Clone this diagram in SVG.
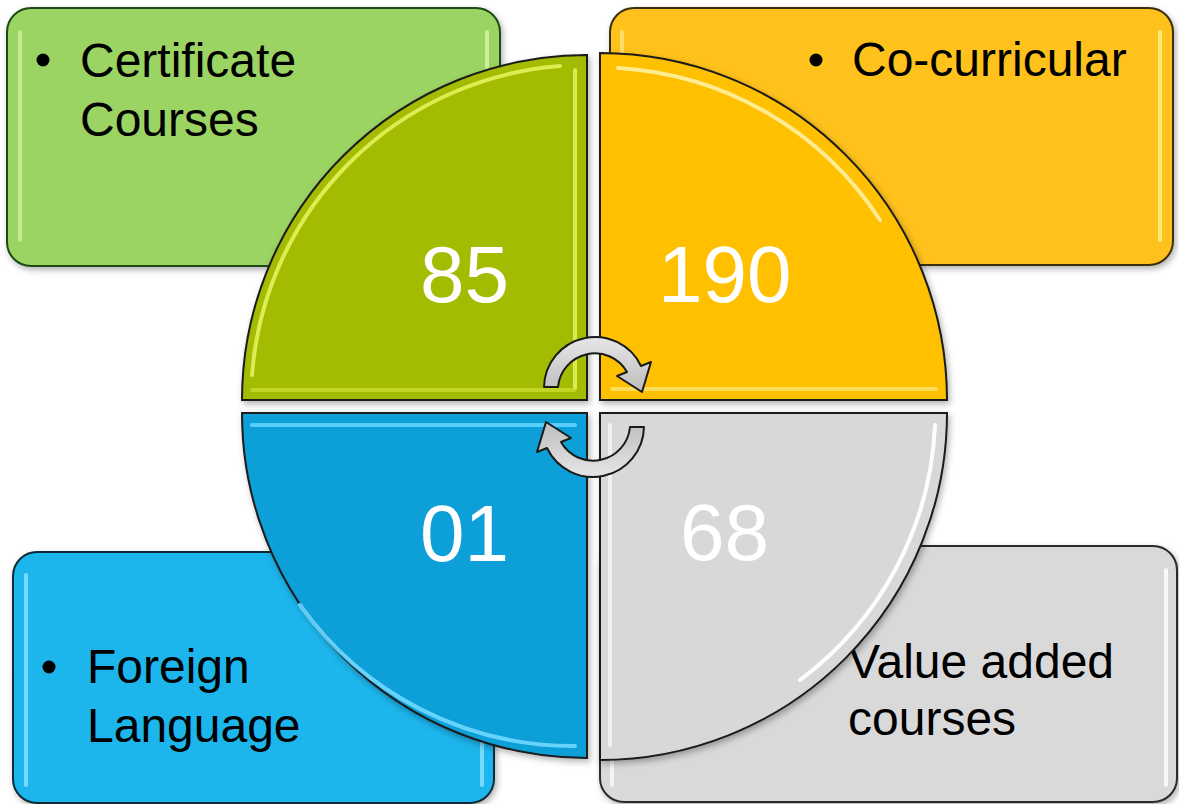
<svg xmlns="http://www.w3.org/2000/svg" width="1179" height="804" viewBox="0 0 1179 804">
<defs>
<filter id="sh" x="-10%" y="-10%" width="120%" height="120%">
<feDropShadow dx="2" dy="3" stdDeviation="3" flood-color="#000" flood-opacity="0.3"/>
</filter>
<linearGradient id="arrowFill" x1="0" y1="0" x2="0" y2="1">
<stop offset="0" stop-color="#e6e6e6"/>
<stop offset="1" stop-color="#bdbdbd"/>
</linearGradient>
<style>
.rect{stroke-width:2}
.quarter{stroke:#1a1a1a;stroke-width:2;filter:url(#sh)}
.hl{fill:none;stroke-width:4;stroke-linecap:round}
.lbl{font-family:"Liberation Sans",Arial,sans-serif;font-size:48px;fill:#000}
.num{font-family:"Liberation Sans",Arial,sans-serif;font-size:80px;fill:#fff}
.arrow{fill:url(#arrowFill);stroke:#1a1a1a;stroke-width:2;stroke-linejoin:round}
</style>
</defs>
<rect width="1179" height="804" fill="#fff"/>

<g id="box-certificate">
<rect class="rect" x="7" y="8" width="493" height="258" rx="24" fill="#9bd462" stroke="#1f4a12" filter="url(#sh)"/>
<line class="hl" x1="20" y1="32" x2="20" y2="240" stroke="#c9f09a" opacity="0.8"/>
<line class="hl" x1="487" y1="32" x2="487" y2="240" stroke="#d8f5a8" opacity="0.8"/>
<circle cx="43" cy="60" r="6.5" fill="#000"/>
<text class="lbl" x="80" y="77">Certificate</text>
<text class="lbl" x="80" y="136">Courses</text>
</g>

<g id="box-cocurricular">
<rect class="rect" x="610" y="8" width="563" height="257" rx="24" fill="#ffc21e" stroke="#3a2e08" filter="url(#sh)"/>
<line class="hl" x1="622" y1="32" x2="622" y2="240" stroke="#ffe27a" opacity="0.8"/>
<line class="hl" x1="1160" y1="32" x2="1160" y2="240" stroke="#fff07a" opacity="0.9"/>
<circle cx="816" cy="60" r="6.5" fill="#000"/>
<text class="lbl" x="852" y="76">Co-curricular</text>
</g>

<g id="box-foreign">
<rect class="rect" x="13" y="552" width="481" height="251" rx="24" fill="#1bb5ec" stroke="#0c2a38" filter="url(#sh)"/>
<line class="hl" x1="26" y1="575" x2="26" y2="785" stroke="#8fe2ff" opacity="0.8"/>
<line class="hl" x1="482" y1="700" x2="482" y2="785" stroke="#8fe2ff" opacity="0.8"/>
<circle cx="49" cy="667" r="6.5" fill="#000"/>
<text class="lbl" x="87" y="683">Foreign</text>
<text class="lbl" x="87" y="742">Language</text>
</g>

<g id="box-valueadded">
<rect class="rect" x="600" y="546" width="577" height="256" rx="24" fill="#d9d9d9" stroke="#2a2a2a" filter="url(#sh)"/>
<line class="hl" x1="612" y1="570" x2="612" y2="785" stroke="#fff" opacity="0.7"/>
<line class="hl" x1="1166" y1="570" x2="1166" y2="785" stroke="#fff" opacity="0.8"/>
<text class="lbl" x="848" y="678">Value added</text>
<text class="lbl" x="848" y="735">courses</text>
</g>

<g id="quarter-85">
<path class="quarter" d="M 587 400 L 242 400 A 345 345 0 0 1 587 55 Z" fill="#a3bb00"/>
<path class="hl" d="M 252 375 A 335 335 0 0 1 560 66" stroke="#e3f25a" opacity="0.9"/>
<line class="hl" x1="575" y1="70" x2="575" y2="388" stroke="#e0f060" opacity="0.9"/>
<line class="hl" x1="252" y1="390" x2="574" y2="390" stroke="#c8dc30" opacity="0.8"/>
<text class="num" x="420" y="302">85</text>
</g>

<g id="quarter-190">
<path class="quarter" d="M 600 400 L 600 53 A 347 347 0 0 1 947 400 Z" fill="#ffc000"/>
<path class="hl" d="M 618 68 A 336 336 0 0 1 880 220" stroke="#fff0a0" opacity="0.9"/>
<line class="hl" x1="612" y1="389" x2="936" y2="389" stroke="#ffe066" opacity="0.9"/>
<text class="num" x="658" y="302">190</text>
</g>

<g id="quarter-01">
<path class="quarter" d="M 587 413 L 587 758 A 345 345 0 0 1 242 413 Z" fill="#0b9fd8"/>
<line class="hl" x1="252" y1="425" x2="575" y2="425" stroke="#5fd2ff" opacity="0.9"/>
<path class="hl" d="M 300 605 A 335 335 0 0 0 575 746" stroke="#6fd8ff" opacity="0.9"/>
<text class="num" x="420" y="561">01</text>
</g>

<g id="quarter-68">
<path class="quarter" d="M 600 413 L 947 413 A 347 347 0 0 1 600 760 Z" fill="#d8d8d8"/>
<line class="hl" x1="610" y1="425" x2="610" y2="745" stroke="#f4f4f4" opacity="0.9"/>
<path class="hl" d="M 935 425 A 336 336 0 0 1 800 680" stroke="#ffffff" opacity="0.95"/>
<text class="num" x="680" y="560" fill="#f5f5f5">68</text>
</g>

<g id="connectors">
<path class="arrow" d="M 544 387 A 51 51 0 0 1 641 366 L 651 362 L 642 392 L 617 376 L 627 372 A 37 37 0 0 0 558 387 Z"/>
<path class="arrow" transform="rotate(180 594 407)" d="M 544 387 A 51 51 0 0 1 641 366 L 651 362 L 642 392 L 617 376 L 627 372 A 37 37 0 0 0 558 387 Z"/>
</g>
</svg>
